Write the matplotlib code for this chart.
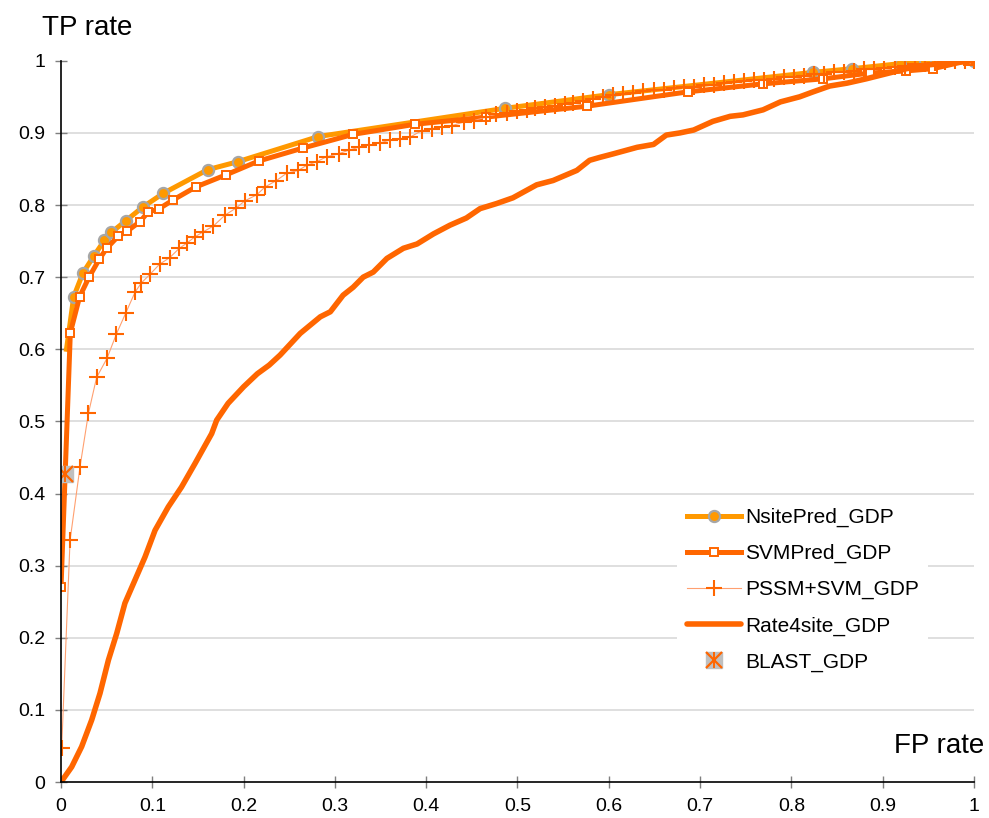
import matplotlib
matplotlib.use("Agg")
import matplotlib.pyplot as plt
from matplotlib.legend_handler import HandlerTuple

plt.rcParams['font.family'] = ['Liberation Sans', 'DejaVu Sans']

# ---------------- data ----------------
nsite_x = [0.006, 0.0139, 0.0241, 0.0358, 0.0475, 0.0551, 0.0708, 0.0894, 0.1117,
           0.1606, 0.1935, 0.282, 0.486, 0.600, 0.824, 0.866, 0.919, 0.946, 1.0]
nsite_y = [0.60, 0.673, 0.706, 0.729, 0.751, 0.762, 0.778, 0.797, 0.816,
           0.849, 0.860, 0.895, 0.934, 0.953, 0.984, 0.989, 0.996, 1.0, 1.0]

svm_x = [0.0, 0.0102, 0.0204, 0.0307, 0.042, 0.050, 0.0628, 0.0727, 0.0865, 0.0953,
         0.1077, 0.1227, 0.1475, 0.181, 0.2165, 0.265, 0.320, 0.388, 0.466, 0.576,
         0.687, 0.769, 0.835, 0.886, 0.926, 0.955, 0.993]
svm_y = [0.27, 0.623, 0.673, 0.700, 0.725, 0.740, 0.757, 0.764, 0.777, 0.790,
         0.795, 0.807, 0.825, 0.842, 0.861, 0.879, 0.898, 0.912, 0.922, 0.937,
         0.957, 0.968, 0.975, 0.983, 0.986, 0.989, 1.0]

pssm_x = [0.0007, 0.0099, 0.0208, 0.030, 0.039, 0.0504, 0.0606, 0.0708, 0.081, 0.088,
          0.0975, 0.108, 0.119, 0.1296, 0.1376, 0.1468, 0.156, 0.167, 0.1796, 0.192,
          0.2015, 0.2143, 0.2234, 0.236, 0.247, 0.260, 0.269, 0.280, 0.291, 0.304,
          0.315, 0.326, 0.337, 0.349, 0.360, 0.371, 0.382, 0.395, 0.406, 0.417,
          0.428, 0.441, 0.452, 0.466, 0.477, 0.488, 0.499, 0.510, 0.519, 0.530,
          0.541, 0.552, 0.561, 0.572, 0.583, 0.594, 0.605, 0.616, 0.627, 0.638,
          0.649, 0.660, 0.671, 0.682, 0.693, 0.704, 0.715, 0.726, 0.737, 0.748,
          0.759, 0.770, 0.781, 0.792, 0.803, 0.814, 0.825, 0.836, 0.847, 0.858,
          0.869, 0.880, 0.891, 0.902, 0.913, 0.924, 0.935, 0.946, 0.957, 0.968,
          0.979, 0.990, 1.0]
pssm_y = [0.047, 0.335, 0.437, 0.511, 0.561, 0.5875, 0.621, 0.650, 0.679, 0.692,
          0.704, 0.718, 0.727, 0.740, 0.747, 0.756, 0.763, 0.771, 0.786, 0.796,
          0.806, 0.814, 0.825, 0.834, 0.844, 0.848, 0.855, 0.860, 0.867, 0.871,
          0.876, 0.880, 0.883, 0.886, 0.890, 0.892, 0.894, 0.903, 0.906, 0.908,
          0.910, 0.915, 0.917, 0.922, 0.926, 0.928, 0.931, 0.932, 0.934, 0.936,
          0.937, 0.940, 0.941, 0.944, 0.947, 0.950, 0.952, 0.954, 0.956, 0.958,
          0.959, 0.960, 0.962, 0.963, 0.964, 0.966, 0.967, 0.969, 0.970, 0.972,
          0.973, 0.974, 0.975, 0.977, 0.978, 0.979, 0.981, 0.982, 0.984, 0.985,
          0.986, 0.988, 0.989, 0.990, 0.992, 0.993, 0.995, 0.996, 0.997, 0.998,
          0.999, 1.0, 1.0]

rate_x = [0.0, 0.0117, 0.0226, 0.0336, 0.0427, 0.0519, 0.061, 0.070, 0.081, 0.092,
          0.103, 0.1175, 0.132, 0.1468, 0.165, 0.1705, 0.183, 0.200, 0.215, 0.228,
          0.240, 0.262, 0.284, 0.295, 0.309, 0.320, 0.331, 0.342, 0.357, 0.375,
          0.390, 0.408, 0.426, 0.444, 0.459, 0.477, 0.495, 0.521, 0.539, 0.565,
          0.579, 0.590, 0.605, 0.631, 0.649, 0.663, 0.678, 0.693, 0.714, 0.733,
          0.747, 0.769, 0.788, 0.809, 0.824, 0.842, 0.861, 0.882, 0.904, 0.926,
          0.948, 0.970, 1.0]
rate_y = [0.0, 0.021, 0.049, 0.086, 0.123, 0.169, 0.206, 0.248, 0.280, 0.312,
          0.349, 0.3815, 0.409, 0.4417, 0.483, 0.5017, 0.525, 0.548, 0.566, 0.578,
          0.592, 0.622, 0.645, 0.652, 0.675, 0.686, 0.700, 0.707, 0.726, 0.740,
          0.746, 0.760, 0.772, 0.782, 0.795, 0.802, 0.810, 0.828, 0.834, 0.848,
          0.862, 0.866, 0.871, 0.880, 0.884, 0.897, 0.900, 0.904, 0.916, 0.923,
          0.925, 0.932, 0.943, 0.950, 0.957, 0.965, 0.969, 0.975, 0.982, 0.989,
          0.994, 0.997, 1.0]

blast_x = [0.0044]
blast_y = [0.427]

labels = ['NsitePred_GDP', 'SVMPred_GDP', 'PSSM+SVM_GDP', 'Rate4site_GDP', 'BLAST_GDP']
ticks = [0, 0.1, 0.2, 0.3, 0.4, 0.5, 0.6, 0.7, 0.8, 0.9, 1]
tick_labels = ['0', '0.1', '0.2', '0.3', '0.4', '0.5', '0.6', '0.7', '0.8', '0.9', '1']

# ---------------- figure ----------------
fig = plt.figure(figsize=(9.89, 8.18), dpi=100)
ax = fig.add_axes([0.0617, 0.044, 0.9231, 0.8817])

c_nsite = '#FF9900'
c_svm = '#FF6600'

h_nsite, = ax.plot(nsite_x, nsite_y, color=c_nsite, lw=3.6, marker='o', ms=8,
                   mfc=c_nsite, mec='#A6A6A6', mew=1.6,
                   markevery=list(range(1, len(nsite_x))), zorder=3,
                   solid_joinstyle='round')
h_svm, = ax.plot(svm_x, svm_y, color=c_svm, lw=3.6, marker='s', ms=5.5,
                 mfc='white', mec=c_svm, mew=1.4, zorder=4, solid_joinstyle='round')
h_pssm, = ax.plot(pssm_x, pssm_y, color='#FFA070', lw=0.8, marker='+', ms=11,
                  mec=c_svm, mew=1.5, zorder=5)
h_rate, = ax.plot(rate_x, rate_y, color=c_svm, lw=4.0, zorder=6,
                  solid_joinstyle='round', solid_capstyle='round')
hb1, = ax.plot(blast_x, blast_y, ls='none', marker='s', ms=12, mfc='#BFBFBF',
               mec='#BFBFBF', zorder=7)
hb2, = ax.plot(blast_x, blast_y, ls='none', marker='x', ms=11, mec=c_svm, mew=1.6, zorder=8)
hb3, = ax.plot(blast_x, blast_y, ls='none', marker='|', ms=11, mec=c_svm, mew=1.4, zorder=8)

ax.set_xlim(0, 1)
ax.set_ylim(0, 1)
ax.set_xticks(ticks)
ax.set_xticklabels(tick_labels)
ax.set_yticks(ticks)
ax.set_yticklabels(tick_labels)
ax.tick_params(axis='both', direction='inout', length=9, width=1.0, color='#7F7F7F',
               labelsize=14, labelcolor='black')
ax.tick_params(axis='y', pad=7)
ax.tick_params(axis='x', pad=7)

for s in ['top', 'right']:
    ax.spines[s].set_visible(False)
for s in ['left', 'bottom']:
    ax.spines[s].set_color('black')
    ax.spines[s].set_linewidth(1.2)
    ax.spines[s].set_zorder(9)

ax.grid(axis='y', color='#D9D9D9', lw=1.2)
ax.set_axisbelow(True)
yg = ax.get_ygridlines()
yg[0].set_visible(False)
yg[-1].set_visible(False)

fig.text(41.7 / 989, 1 - 35 / 818, 'TP rate', fontsize=20, ha='left', va='baseline')
fig.text(984 / 989, 1 - 753 / 818, 'FP rate', fontsize=20, ha='right', va='baseline')

leg = ax.legend([h_nsite, h_svm, h_pssm, h_rate, (hb1, hb2, hb3)], labels,
                handler_map={tuple: HandlerTuple(ndivide=1)},
                loc='upper left', bbox_to_anchor=(0.675, 0.393),
                fontsize=15, numpoints=1, handlelength=2.6, handletextpad=0.2,
                labelspacing=0.81, borderpad=0.45, borderaxespad=0.0,
                frameon=True, fancybox=False, framealpha=1.0,
                facecolor='white', edgecolor='none')
leg.set_zorder(10)

fig.savefig('out.png', dpi=100)
